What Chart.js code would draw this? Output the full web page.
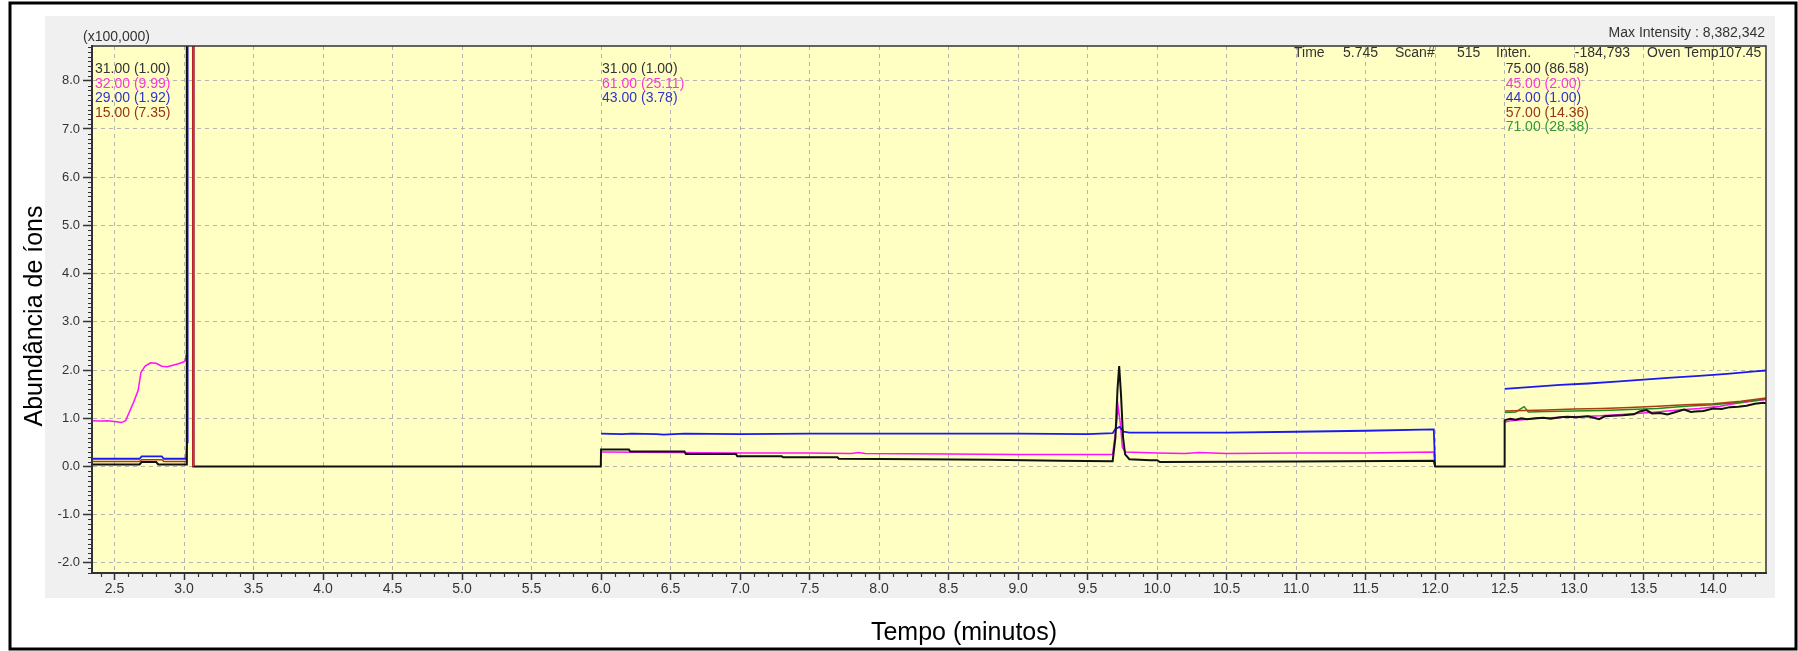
<!DOCTYPE html>
<html>
<head>
<meta charset="utf-8">
<script src="https://cdn.jsdelivr.net/npm/chart.js"></script>
<style>
  html, body { margin: 0; padding: 0; background: #fff; }
  canvas { display: block; }
</style>
</head>
<body>
<canvas id="chrom" width="1798" height="651"></canvas>
<script>
// retention time (min) / abundance (x100,000) for each trace colour
// null = no data (break in the trace)
const blackTime = [2.338, 2.68, 2.695, 2.80, 2.815, 3.015, 3.02, 3.065, 3.067, 5.998,
  6.0, 6.2, 6.21, 6.6, 6.61, 6.97, 6.98, 7.3, 7.31, 7.7, 7.71, 8.3, 8.8, 9.3, 9.68,
  9.70, 9.715, 9.727, 9.74, 9.755, 9.77, 9.80, 9.95, 10.0, 10.02, 11.0, 11.99, 12.0, 12.498,
  12.5, 12.54, 12.58, 12.62, 12.66, 12.72, 12.78, 12.83, 12.9, 12.95, 13.02, 13.1, 13.18,
  13.22, 13.28, 13.35, 13.43, 13.47, 13.52, 13.56, 13.62, 13.67, 13.72, 13.79, 13.84,
  13.87, 13.93, 14.0, 14.06, 14.12, 14.18, 14.24, 14.3, 14.36, 14.38];
const blackAbund = [0.04, 0.04, 0.09, 0.09, 0.04, 0.04, 83.8, 83.8, 0, 0,
  0.35, 0.35, 0.31, 0.31, 0.26, 0.26, 0.21, 0.21, 0.19, 0.19, 0.16, 0.15, 0.14, 0.12, 0.11,
  0.6, 1.6, 2.08, 1.5, 0.6, 0.25, 0.15, 0.13, 0.13, 0.09, 0.10, 0.12, 0, 0,
  0.96, 0.99, 0.97, 1.0, 0.98, 1.0, 1.01, 0.99, 1.02, 1.03, 1.02, 1.04, 0.98,
  1.04, 1.05, 1.06, 1.08, 1.14, 1.17, 1.1, 1.11, 1.08, 1.12, 1.18, 1.13,
  1.14, 1.15, 1.2, 1.19, 1.23, 1.24, 1.26, 1.3, 1.32, 1.31];

const magentaTime = [2.338, 2.40, 2.45, 2.50, 2.55, 2.58, 2.61, 2.64, 2.67, 2.69, 2.72,
  2.76, 2.80, 2.84, 2.88, 2.92, 2.96, 3.0, 3.01, 3.015, 3.02, 3.065, 3.067, 3.07,
  6.0, 6.5, 7.0, 7.5, 7.8, 7.85, 7.9, 8.5, 9.0, 9.68, 9.705, 9.72, 9.735, 9.75, 9.77,
  10.0, 10.2, 10.3, 10.5, 11.0, 11.5, 11.99, 12.0, 12.01,
  12.5, 12.55, 12.7, 12.9, 13.1, 13.19, 13.4, 13.55, 13.67, 13.8, 13.9, 14.05, 14.15, 14.25, 14.38];
const magentaAbund = [0.95, 0.94, 0.95, 0.93, 0.91, 0.95, 1.15, 1.35, 1.58, 1.95, 2.08,
  2.15, 2.14, 2.08, 2.07, 2.1, 2.13, 2.17, 2.2, 2.3, 83.8, 83.8, 0, null,
  0.3, 0.29, 0.28, 0.28, 0.27, 0.29, 0.27, 0.26, 0.25, 0.25, 0.8, 1.23, 0.9, 0.4, 0.3,
  0.28, 0.27, 0.29, 0.27, 0.28, 0.28, 0.3, 0, null,
  0.92, 0.95, 0.99, 1.02, 1.04, 1.05, 1.09, 1.12, 1.15, 1.18, 1.2, 1.25, 1.3, 1.34, 1.39];

const blueTime = [2.338, 2.68, 2.695, 2.84, 2.855, 3.015, 3.022, 3.026, 3.065, 3.067, 3.07,
  6.0, 6.15, 6.22, 6.4, 6.45, 6.6, 7.0, 7.5, 8.0, 8.5, 9.0, 9.5, 9.68, 9.70, 9.73, 9.76,
  9.8, 10.5, 11.0, 11.5, 11.99, 12.0, 12.01,
  12.5, 12.7, 12.9, 13.1, 13.3, 13.5, 13.7, 13.9, 14.1, 14.3, 14.38];
const blueAbund = [0.16, 0.16, 0.21, 0.21, 0.16, 0.16, 0.5, 83.8, 83.8, 0, null,
  0.68, 0.67, 0.68, 0.67, 0.66, 0.68, 0.67, 0.68, 0.68, 0.68, 0.68, 0.67, 0.69, 0.78, 0.82, 0.72,
  0.7, 0.7, 0.72, 0.74, 0.77, 0, null,
  1.61, 1.65, 1.69, 1.72, 1.76, 1.8, 1.84, 1.88, 1.92, 1.97, 1.99];

const brownTime = [2.338, 2.68, 2.695, 2.84, 2.855, 3.015, 3.02, 3.065, 3.067, 3.07,
  12.5, 12.8, 13.0, 13.2, 13.4, 13.6, 13.8, 14.0, 14.2, 14.38];
const brownAbund = [0.1, 0.1, 0.14, 0.14, 0.1, 0.1, 83.8, 83.8, 0, null,
  1.15, 1.17, 1.19, 1.2, 1.22, 1.25, 1.28, 1.3, 1.35, 1.42];

const greenTime = [12.5, 12.58, 12.64, 12.67, 12.8, 13.0, 13.2, 13.4, 13.6, 13.8, 14.0, 14.2, 14.38];
const greenAbund = [1.12, 1.13, 1.24, 1.13, 1.14, 1.15, 1.16, 1.18, 1.2, 1.25, 1.28, 1.33, 1.4];

// red cursor line
const markerTime = [3.067, 3.067];
const markerAbund = [0, 83.8];

const yTicks = [-2, -1, 0, 1, 2, 3, 4, 5, 6, 7, 8];
const xMin = 2.338, xMax = 14.38, yMin = -2.21, yMax = 8.72;

// ion labels shown in each SIM window
const ionsWin1 = ['31.00 (1.00)', '32.00 (9.99)', '29.00 (1.92)', '15.00 (7.35)'];
const ionsWin2 = ['31.00 (1.00)', '61.00 (25.11)', '43.00 (3.78)'];
const ionsWin3 = ['75.00 (86.58)', '45.00 (2.00)', '44.00 (1.00)', '57.00 (14.36)', '71.00 (28.38)'];
const ionColors = ['#333333', '#ff33dd', '#3333cc', '#993311', '#339933'];

const pts = (t, a) => t.map((v, i) => ({x: v, y: a[i]}));

const FONT = '"Liberation Sans", Arial, sans-serif';

const decor = {
  id: 'decor',
  beforeDraw(chart) {
    const ctx = chart.ctx;
    const a = chart.chartArea;
    ctx.save();
    ctx.fillStyle = '#fff';
    ctx.fillRect(0, 0, chart.width, chart.height);
    ctx.fillStyle = '#f0f0f0';
    ctx.fillRect(45, 16, 1775 - 45, 598 - 16);
    ctx.fillStyle = '#ffffc4';
    ctx.fillRect(a.left, a.top, a.right - a.left, a.bottom - a.top);
    ctx.strokeStyle = '#000';
    ctx.lineWidth = 3;
    ctx.strokeRect(10, 3, 1786, 646);
    ctx.restore();
  },
  afterDraw(chart) {
    const ctx = chart.ctx;
    const a = chart.chartArea;
    const xs = chart.scales.x, ys = chart.scales.y;
    ctx.save();
    // frame of plot
    ctx.strokeStyle = '#333';
    ctx.lineWidth = 1.5;
    ctx.strokeRect(a.left, a.top, a.right - a.left, a.bottom - a.top);
    // minor ticks
    ctx.lineWidth = 1.2;
    ctx.beginPath();
    for (let k = Math.ceil(xMin * 10); k <= Math.floor(xMax * 10); k++) {
      if (k % 5 === 0) continue;
      const px = Math.round(xs.getPixelForValue(k / 10)) + 0.5;
      ctx.moveTo(px, a.bottom); ctx.lineTo(px, a.bottom + 4);
    }
    for (let k = Math.ceil(yMin * 10); k <= Math.floor(yMax * 10); k++) {
      if (k % 10 === 0) continue;
      const py = Math.round(ys.getPixelForValue(k / 10)) + 0.5;
      ctx.moveTo(a.left - 4, py); ctx.lineTo(a.left, py);
    }
    ctx.stroke();

    // texts
    ctx.textBaseline = 'middle';
    ctx.font = '14px ' + FONT;
    ctx.fillStyle = '#333';
    ctx.textAlign = 'left';
    ctx.fillText('(x100,000)', 83, 37);
    ctx.textAlign = 'right';
    ctx.fillText('Max Intensity : 8,382,342', 1765, 33);

    ctx.textAlign = 'left';
    const header = [['Time', 1294], ['5.745', 1343], ['Scan#', 1395], ['515', 1457], ['Inten.', 1496], ['Oven Temp107.45', 1647]];
    header.forEach(h => ctx.fillText(h[0], h[1], 53));
    ctx.textAlign = 'right';
    ctx.fillText('-184,793', 1630, 53);

    ctx.textAlign = 'left';
    const block = (labels, x) => labels.forEach((s, i) => {
      ctx.fillStyle = ionColors[i];
      ctx.fillText(s, x, 69.5 + i * 14.5);
    });
    block(ionsWin1, a.left + 3);
    block(ionsWin2, xs.getPixelForValue(6.0) + 1);
    block(ionsWin3, xs.getPixelForValue(12.5) + 1);

    // axis titles
    ctx.fillStyle = '#000';
    ctx.font = '25px ' + FONT;
    ctx.textAlign = 'center';
    ctx.fillText('Tempo (minutos)', 964, 633);
    ctx.translate(35, 316);
    ctx.rotate(-Math.PI / 2);
    ctx.fillText('Abundância de íons', 0, 0);
    ctx.restore();
  }
};

const line = (label, t, a, color, w) => ({
  label, data: pts(t, a), borderColor: color, borderWidth: w,
  pointRadius: 0, tension: 0, spanGaps: false, fill: false
});

new Chart(document.getElementById('chrom'), {
  type: 'line',
  data: {
    datasets: [
      line('cursor', markerTime, markerAbund, '#ff2020', 2),
      line('black', blackTime, blackAbund, '#111111', 2),
      line('brown', brownTime, brownAbund, '#b03a10', 1.5),
      line('green', greenTime, greenAbund, '#1e8a1e', 1.5),
      line('blue', blueTime, blueAbund, '#1a1aee', 1.8),
      line('magenta', magentaTime, magentaAbund, '#ff10ff', 1.5)
    ]
  },
  options: {
    responsive: false,
    animation: false,
    events: [],
    layout: { padding: { left: 0, top: 46, right: 32, bottom: 53 } },
    plugins: { legend: { display: false }, tooltip: { enabled: false } },
    scales: {
      x: {
        type: 'linear',
        min: xMin, max: xMax,
        afterFit: s => { s.height = 25; },
        ticks: {
          stepSize: 0.5, includeBounds: false, padding: 1,
          color: '#333', font: { size: 14, family: FONT },
          maxRotation: 0, autoSkip: false,
          callback: v => v.toFixed(1)
        },
        grid: { color: '#b4b4b4', lineWidth: 1, tickLength: 7, tickColor: '#333', tickWidth: 1.5 },
        border: { display: true, color: '#333', width: 2, dash: [4, 4] }
      },
      y: {
        type: 'linear',
        min: yMin, max: yMax,
        afterFit: s => { s.width = 92; },
        afterBuildTicks: s => { s.ticks = yTicks.map(v => ({value: v})); },
        ticks: {
          padding: 3, color: '#333', font: { size: 13, family: FONT },
          callback: v => v.toFixed(1)
        },
        grid: { color: '#b4b4b4', lineWidth: 1, tickLength: 9, tickColor: '#333', tickWidth: 1.5 },
        border: { display: true, color: '#333', width: 2, dash: [4, 4] }
      }
    }
  },
  plugins: [decor]
});
</script>
</body>
</html>
